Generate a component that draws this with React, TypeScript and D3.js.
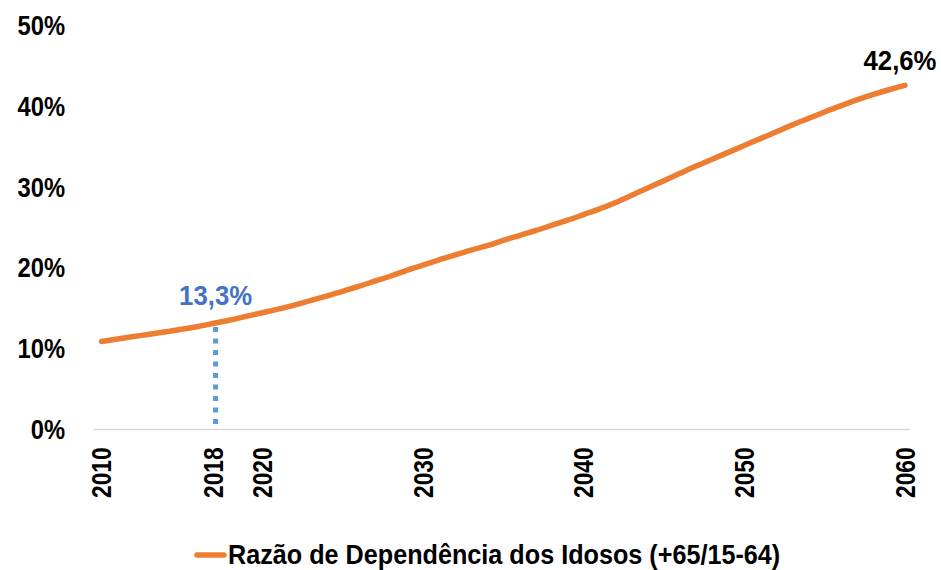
import * as d3 from "d3";

const width = 941;
const height = 570;
const marginTop = 25.5;
const marginBottom = 140.5;
const marginLeft = 101.5;
const marginRight = 36;

// no narrow font installed: squeeze Liberation Sans Bold horizontally instead
const fontFamily = "'Liberation Sans', Arial, sans-serif";

// Old-age dependency ratio (+65 / 15-64), in %, one value per year
const years = d3.range(2010, 2061);
const ratio = [
  10.9, 11.2, 11.5, 11.8, 12.1, 12.4, 12.75, 13.15, 13.55, 14.0,
  14.45, 14.9, 15.4, 15.95, 16.5, 17.1, 17.7, 18.35, 19.0, 19.7,
  20.35, 21.0, 21.6, 22.2, 22.75, 23.4, 24.0, 24.6, 25.25, 25.9,
  26.6, 27.3, 28.1, 29.0, 29.9, 30.8, 31.7, 32.6, 33.45, 34.3,
  35.15, 36.0, 36.85, 37.7, 38.5, 39.3, 40.05, 40.8, 41.45, 42.05,
  42.6,
];

const yTicks = [0, 10, 20, 30, 40, 50];
const xTicks = [2010, 2020, 2030, 2040, 2050, 2060];

// highlighted year: the source draws its marker a bit left of the true 2018 spot
const markerLabel = "2018";
const markerAt = 2017.1;
const markerValue = 13.3;
const endLabel = "42,6%";

const seriesName = "Razão de Dependência dos Idosos (+65/15-64)";

const fmt = (v: number) => v.toFixed(1).replace(".", ",") + "%";

export default function App() {
  const data = years.map((year, i) => ({ year, value: ratio[i] }));

  const xScale = d3
    .scaleLinear()
    .domain([2010, 2060])
    .range([marginLeft, width - marginRight]);

  const yScale = d3
    .scaleLinear()
    .domain([0, 50])
    .range([height - marginBottom, marginTop]);

  const line = d3
    .line<{ year: number; value: number }>()
    .x((d) => xScale(d.year))
    .y((d) => yScale(d.value))
    .curve(d3.curveMonotoneX);

  // value of the curve where the marker sits
  const i0 = Math.floor(markerAt - 2010);
  const markerLineValue = d3.interpolateNumber(ratio[i0], ratio[i0 + 1])(markerAt - Math.floor(markerAt));

  const chartBottomY = yScale(0);
  const last = data[data.length - 1];

  return (
    <svg
      width={width}
      height={height}
      viewBox={`0 0 ${width} ${height}`}
      style={{ position: "absolute", left: 0, top: 0, background: "#fff" }}
      fontFamily={fontFamily}
      fontWeight="bold"
    >
      {/* baseline */}
      <line
        x1={marginLeft - 8}
        x2={width - marginRight + 5}
        y1={chartBottomY}
        y2={chartBottomY}
        stroke="#d9d9d9"
        strokeWidth={1.5}
      />

      {/* y-axis labels */}
      <g className="y-axis">
        {yTicks.map((t) => (
          <text
            key={t}
            transform={`translate(65,${yScale(t)}) scale(0.88,1)`}
            textAnchor="end"
            dominantBaseline="central"
            fontSize={27}
            fill="#000"
          >
            {t}%
          </text>
        ))}
      </g>

      {/* x-axis labels (rotated) */}
      <g className="x-axis">
        {xTicks.map((t) => (
          <text
            key={t}
            transform={`translate(${xScale(t)},${chartBottomY + 18}) rotate(-90) scale(0.84,1)`}
            textAnchor="end"
            dominantBaseline="central"
            fontSize={27}
            fill="#000"
          >
            {t}
          </text>
        ))}
        <text
          transform={`translate(${xScale(markerAt) - 2},${chartBottomY + 18}) rotate(-90) scale(0.84,1)`}
          textAnchor="end"
          dominantBaseline="central"
          fontSize={27}
          fill="#000"
        >
          {markerLabel}
        </text>
      </g>

      {/* marker drop line */}
      <line
        x1={xScale(markerAt)}
        x2={xScale(markerAt)}
        y1={yScale(markerLineValue) + 4}
        y2={chartBottomY}
        stroke="#5b9bd5"
        strokeWidth={5}
        strokeDasharray="5 6.5"
      />

      {/* series */}
      <path
        d={line(data) ?? ""}
        fill="none"
        stroke="#ed7d31"
        strokeWidth={5.5}
        strokeLinecap="round"
        strokeLinejoin="round"
      />

      {/* data labels */}
      <text
        transform={`translate(${xScale(markerAt)},${yScale(markerLineValue) - 18}) scale(0.92,1)`}
        textAnchor="middle"
        fontSize={28}
        fill="#4472c4"
      >
        {fmt(markerValue)}
      </text>
      <text
        transform={`translate(${xScale(last.year) - 5},${yScale(last.value) - 15}) scale(0.92,1)`}
        textAnchor="middle"
        fontSize={28}
        fill="#000"
      >
        {endLabel}
      </text>

      {/* legend */}
      <g className="legend" transform={`translate(197,555)`}>
        <line x1={0} x2={27} y1={0} y2={0} stroke="#ed7d31" strokeWidth={5.5} strokeLinecap="round" />
        <text
          transform="translate(31,0) scale(0.9,1)"
          dominantBaseline="central"
          fontSize={28}
          fill="#000"
        >
          {seriesName}
        </text>
      </g>
    </svg>
  );
}
